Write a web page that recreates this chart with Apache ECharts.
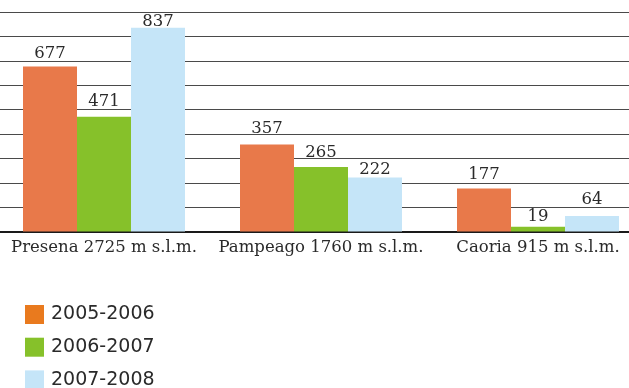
<!DOCTYPE html>
<html>
<head>
<meta charset="utf-8">
<script src="https://cdn.jsdelivr.net/npm/echarts@6/dist/echarts.min.js"></script>
<style>
html,body{margin:0;padding:0;background:#fff;}
#chart{width:629px;height:388px;}
</style>
</head>
<body>
<div id="chart"></div>
<script>
// Stations (name + altitude) and seasonal values per station
const categories = ['Presena 2725 m s.l.m.', 'Pampeago 1760 m s.l.m.', 'Caoria 915 m s.l.m.'];
const seasons = ['2005-2006', '2006-2007', '2007-2008'];
const values2005 = [677, 357, 177];
const values2006 = [471, 265, 19];
const values2007 = [837, 222, 64];

const barColors = ['#E8794A', '#86C12A', '#C5E5F8'];
const legendColors = ['#E97A1E', '#86C12A', '#C5E5F8'];
const seriesValues = [values2005, values2006, values2007];
// small vertical nudges for the value labels (px)
const labelNudge = [[0, -3, -1], [-2.5, -2, 2], [7, 4.5, -4]];

const serifFont = '"DejaVu Serif", serif';
const sansFont = '"DejaVu Sans", sans-serif';

const chart = echarts.init(document.getElementById('chart'));
chart.setOption({
  animation: false,
  backgroundColor: '#fff',
  grid: { left: -4.5, width: 651, top: 12.3, height: 219.2, containLabel: false, outerBoundsMode: 'none' },
  legend: {
    orient: 'vertical',
    left: 20,
    top: 300,
    height: 90,
    itemWidth: 19,
    itemHeight: 19,
    itemGap: 13.7,
    icon: 'rect',
    textStyle: { fontFamily: sansFont, fontSize: 19, color: '#2a2a2a', padding: [0, 0, 0, 2] },
    data: seasons.map((s, i) => ({ name: s, itemStyle: { color: legendColors[i] } }))
  },
  xAxis: {
    type: 'category',
    data: categories,
    axisLine: { show: true, lineStyle: { color: '#1a1a1a', width: 2.2 } },
    axisTick: { show: false },
    axisLabel: { interval: 0, hideOverlap: false, fontFamily: serifFont, fontSize: 16.5, color: '#2a2a2a', margin: 8 }
  },
  yAxis: {
    type: 'value',
    min: 0,
    max: 900,
    interval: 100,
    axisLine: { show: false },
    axisTick: { show: false },
    axisLabel: { show: false },
    splitLine: { lineStyle: { color: '#4a4a4a', width: 1.2 } }
  },
  series: seriesValues.map((vals, i) => ({
    name: seasons[i],
    type: 'bar',
    data: vals.map((v, j) => ({ value: v, label: { offset: [0, labelNudge[i][j]] } })),
    barWidth: 54,
    barGap: '0%',
    itemStyle: { color: barColors[i] },
    label: {
      show: true,
      position: 'top',
      distance: 4,
      fontFamily: serifFont,
      fontSize: 16.5,
      color: '#2a2a2a'
    }
  }))
});
</script>
</body>
</html>
